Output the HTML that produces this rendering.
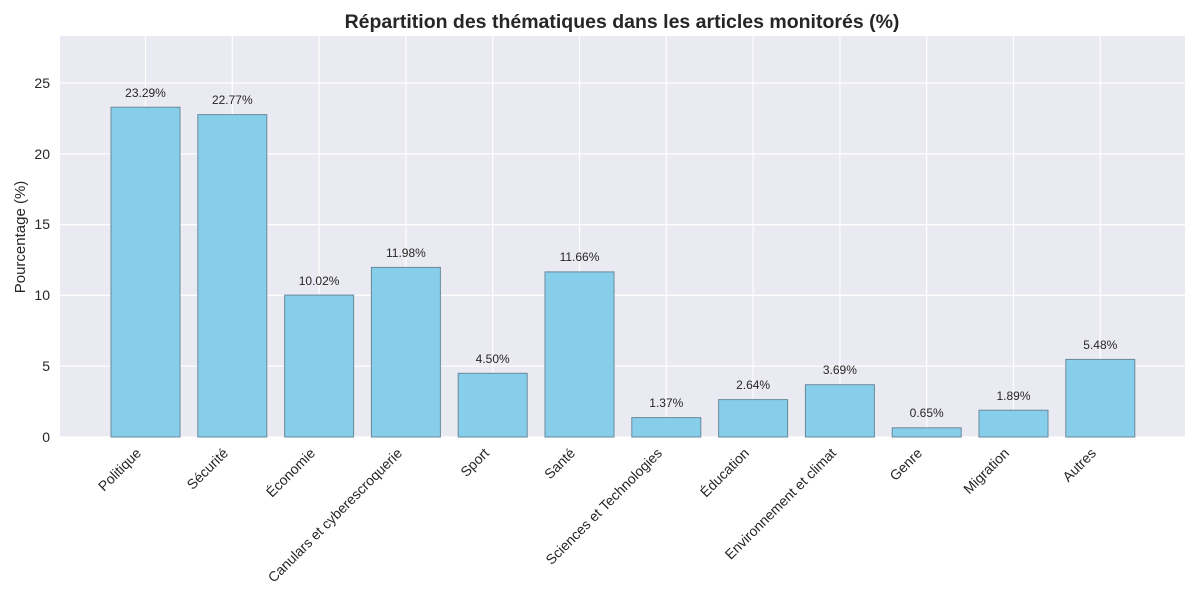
<!DOCTYPE html>
<html><head><meta charset="utf-8"><style>body{margin:0;background:#fff}svg{display:block}text{font-family:"Liberation Sans",sans-serif}</style></head><body>
<svg width="1200" height="600" viewBox="0 0 1200 600">
<rect x="60" y="36" width="1125" height="401" fill="#eaeaf2"/>
<g stroke="#fff" stroke-width="1.2">
<line x1="60" x2="1185" y1="437" y2="437"/><line x1="60" x2="1185" y1="366.2" y2="366.2"/><line x1="60" x2="1185" y1="295.4" y2="295.4"/><line x1="60" x2="1185" y1="224.6" y2="224.6"/><line x1="60" x2="1185" y1="153.8" y2="153.8"/><line x1="60" x2="1185" y1="83" y2="83"/>
<line x1="145.5" x2="145.5" y1="36" y2="437"/><line x1="232.3" x2="232.3" y1="36" y2="437"/><line x1="319.1" x2="319.1" y1="36" y2="437"/><line x1="405.9" x2="405.9" y1="36" y2="437"/><line x1="492.7" x2="492.7" y1="36" y2="437"/><line x1="579.5" x2="579.5" y1="36" y2="437"/><line x1="666.3" x2="666.3" y1="36" y2="437"/><line x1="753.1" x2="753.1" y1="36" y2="437"/><line x1="839.9" x2="839.9" y1="36" y2="437"/><line x1="926.7" x2="926.7" y1="36" y2="437"/><line x1="1013.5" x2="1013.5" y1="36" y2="437"/><line x1="1100.3" x2="1100.3" y1="36" y2="437"/>
</g>
<g fill="#87ceeb" stroke="#6a8a9a" stroke-width="1">
<rect x="111" y="107.2" width="69" height="329.8"/>
<rect x="197.8" y="114.6" width="69" height="322.4"/>
<rect x="284.6" y="295.1" width="69" height="141.9"/>
<rect x="371.4" y="267.4" width="69" height="169.6"/>
<rect x="458.2" y="373.3" width="69" height="63.7"/>
<rect x="545" y="271.9" width="69" height="165.1"/>
<rect x="631.8" y="417.6" width="69" height="19.4"/>
<rect x="718.6" y="399.6" width="69" height="37.4"/>
<rect x="805.4" y="384.7" width="69" height="52.3"/>
<rect x="892.2" y="427.8" width="69" height="9.2"/>
<rect x="979" y="410.2" width="69" height="26.8"/>
<rect x="1065.8" y="359.4" width="69" height="77.6"/>
</g>
<g font-size="12" fill="#262626" text-anchor="middle">
<text x="145.5" y="97">23.29%</text><text x="232.3" y="104">22.77%</text><text x="319.1" y="285">10.02%</text><text x="405.9" y="257">11.98%</text><text x="492.7" y="363">4.50%</text><text x="579.5" y="261">11.66%</text><text x="666.3" y="407">1.37%</text><text x="753.1" y="389">2.64%</text><text x="839.9" y="374">3.69%</text><text x="926.7" y="417">0.65%</text><text x="1013.5" y="400">1.89%</text><text x="1100.3" y="349">5.48%</text>
</g>
<g font-size="14" fill="#262626" text-anchor="end">
<text x="50" y="442">0</text><text x="50" y="371">5</text><text x="50" y="300">10</text><text x="50" y="229">15</text><text x="50" y="159">20</text><text x="50" y="88">25</text>
</g>
<text transform="translate(25,237) rotate(-90)" font-size="15" fill="#262626" text-anchor="middle">Pourcentage (%)</text>
<text x="622" y="28" font-size="19.5" font-weight="bold" fill="#262626" text-anchor="middle">Répartition des thématiques dans les articles monitorés (%)</text>
<g font-size="14" fill="#262626" text-anchor="end">
<text transform="translate(142,454) rotate(-45)">Politique</text>
<text transform="translate(229,454) rotate(-45)">Sécurité</text>
<text transform="translate(316,454) rotate(-45)">Économie</text>
<text transform="translate(403,454) rotate(-45)">Canulars et cyberescroquerie</text>
<text transform="translate(490,454) rotate(-45)">Sport</text>
<text transform="translate(576,454) rotate(-45)">Santé</text>
<text transform="translate(663,454) rotate(-45)">Sciences et Technologies</text>
<text transform="translate(750,454) rotate(-45)">Éducation</text>
<text transform="translate(837,454) rotate(-45)">Environnement et climat</text>
<text transform="translate(923,454) rotate(-45)">Genre</text>
<text transform="translate(1010,454) rotate(-45)">Migration</text>
<text transform="translate(1097,454) rotate(-45)">Autres</text>
</g>
</svg>
</body></html>
